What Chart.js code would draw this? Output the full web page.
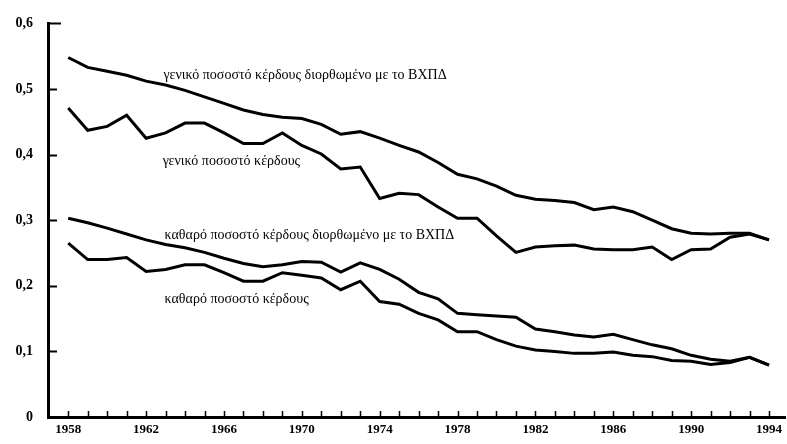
<!DOCTYPE html>
<html>
<head>
<meta charset="utf-8">
<script src="https://cdn.jsdelivr.net/npm/chart.js@4.4.1/dist/chart.umd.min.js"></script>
<style>
    body {
        margin: 0;
        background: #fff;
    }

    #box {
        width: 787px;
        height: 444px;
    }
</style>
</head>
<body>
<div id="box"><canvas id="chart"></canvas></div>
<script>
// years on the x axis
const years = [1958, 1959, 1960, 1961, 1962, 1963, 1964, 1965, 1966, 1967,
    1968, 1969, 1970, 1971, 1972, 1973, 1974, 1975, 1976, 1977,
    1978, 1979, 1980, 1981, 1982, 1983, 1984, 1985, 1986, 1987,
    1988, 1989, 1990, 1991, 1992, 1993, 1994]
const yearLabels = [1958, 1962, 1966, 1970, 1974, 1978, 1982, 1986, 1990, 1994]
const valueTicks = [0, 0.1, 0.2, 0.3, 0.4, 0.5, 0.6]

// γενικό ποσοστό κέρδους διορθωμένο με το ΒΧΠΔ
const grossAdjusted = [0.548, 0.533, 0.527, 0.521, 0.512, 0.506, 0.498, 0.488, 0.478, 0.468,
    0.461, 0.457, 0.455, 0.446, 0.431, 0.435, 0.425, 0.414, 0.404, 0.388,
    0.370, 0.363, 0.352, 0.338, 0.332, 0.330, 0.327, 0.316, 0.320, 0.313,
    0.300, 0.287, 0.280, 0.279, 0.280, 0.280, 0.270]
// γενικό ποσοστό κέρδους
const gross = [0.471, 0.437, 0.443, 0.460, 0.425, 0.433, 0.448, 0.448, 0.433, 0.417,
    0.417, 0.433, 0.414, 0.401, 0.378, 0.381, 0.333, 0.341, 0.339, 0.320,
    0.303, 0.303, 0.276, 0.251, 0.259, 0.261, 0.262, 0.256, 0.255, 0.255,
    0.259, 0.240, 0.255, 0.256, 0.274, 0.279, 0.270]
// καθαρό ποσοστό κέρδους διορθωμένο με το ΒΧΠΔ
const netAdjusted = [0.303, 0.296, 0.288, 0.279, 0.270, 0.263, 0.258, 0.251, 0.242, 0.234,
    0.229, 0.232, 0.237, 0.236, 0.221, 0.235, 0.225, 0.210, 0.190, 0.180,
    0.158, 0.156, 0.154, 0.152, 0.134, 0.130, 0.125, 0.122, 0.126, 0.118,
    0.110, 0.104, 0.094, 0.088, 0.085, 0.091, 0.079]
// καθαρό ποσοστό κέρδους
const net = [0.265, 0.240, 0.240, 0.243, 0.222, 0.225, 0.232, 0.232, 0.220, 0.207,
    0.207, 0.220, 0.216, 0.212, 0.194, 0.207, 0.176, 0.172, 0.158, 0.148,
    0.130, 0.130, 0.118, 0.108, 0.102, 0.100, 0.097, 0.097, 0.099, 0.094,
    0.092, 0.086, 0.085, 0.080, 0.083, 0.091, 0.079]

const seriesNames = [
    'γενικό ποσοστό κέρδους διορθωμένο με το ΒΧΠΔ',
    'γενικό ποσοστό κέρδους',
    'καθαρό ποσοστό κέρδους διορθωμένο με το ΒΧΠΔ',
    'καθαρό ποσοστό κέρδους'
]

const toPoints = (values) => years.map((year, i) => ({ x: year, y: values[i] }))

const makeSet = (name, values) => ({
    label: name,
    data: toPoints(values),
    borderColor: '#000',
    borderWidth: 3,
    pointRadius: 0,
    tension: 0,
    fill: false
})

// text placed next to each curve (left edge, vertical middle, in axis units)
const notes = [
    { text: seriesNames[0], x: 1962.9, y: 0.521 },
    { text: seriesNames[1], x: 1962.85, y: 0.390 },
    { text: seriesNames[2], x: 1962.95, y: 0.277 },
    { text: seriesNames[3], x: 1962.95, y: 0.179 }
]

// ticks drawn on the inner side of both axes, plus the curve notes
const scanLook = {
    id: 'scanLook',
    afterDraw(chart) {
        const { ctx, chartArea } = chart
        const xs = chart.scales.x
        const ys = chart.scales.y
        ctx.save()
        ctx.strokeStyle = '#000'
        ctx.lineWidth = 2
        valueTicks.forEach((v) => {
            const py = Math.round(ys.getPixelForValue(v)) + 0.5
            ctx.beginPath()
            ctx.moveTo(chartArea.left, py)
            ctx.lineTo(chartArea.left + (v === 0.6 ? 13 : 9), py)
            ctx.stroke()
        })
        ctx.lineWidth = 1.5
        years.forEach((yr) => {
            const px = Math.round(xs.getPixelForValue(yr)) + 0.5
            ctx.beginPath()
            ctx.moveTo(px, chartArea.bottom)
            ctx.lineTo(px, chartArea.bottom - 6)
            ctx.stroke()
        })

        ctx.fillStyle = '#000'
        ctx.font = '14px "Liberation Serif"'
        ctx.textBaseline = 'middle'
        ctx.textAlign = 'left'
        notes.forEach((n) => {
            ctx.fillText(n.text, xs.getPixelForValue(n.x), ys.getPixelForValue(n.y))
        })
        ctx.restore()
    }
}

new Chart(document.getElementById('chart'), {
    type: 'line',
    data: {
        datasets: [
            makeSet(seriesNames[0], grossAdjusted),
            makeSet(seriesNames[1], gross),
            makeSet(seriesNames[2], netAdjusted),
            makeSet(seriesNames[3], net)
        ]
    },
    options: {
        responsive: true,
        maintainAspectRatio: false,
        animation: false,
        layout: { padding: { top: 17, right: 0, left: 0, bottom: 0 } },
        plugins: {
            legend: { display: false },
            tooltip: { enabled: false }
        },
        scales: {
            x: {
                type: 'linear',
                min: 1956.96,
                max: 1994.87,
                afterBuildTicks: (scale) => {
                    scale.ticks = years.map((v) => ({ value: v }))
                },
                afterFit: (scale) => {
                    scale.height = 27
                },
                grid: { display: false, drawTicks: false },
                border: { color: '#000', width: 3 },
                ticks: {
                    autoSkip: false,
                    maxRotation: 0,
                    minRotation: 0,
                    padding: 5,
                    color: '#000',
                    font: { family: 'Liberation Serif', size: 13, weight: 'bold' },
                    callback: (v) => yearLabels.includes(v) ? String(v) : ''
                }
            },
            y: {
                min: 0,
                max: 0.6,
                afterBuildTicks: (scale) => {
                    scale.ticks = valueTicks.map((v) => ({ value: v }))
                },
                afterFit: (scale) => {
                    scale.width = 48
                },
                grid: { display: false, drawTicks: false },
                border: { color: '#000', width: 3 },
                ticks: {
                    padding: 15,
                    color: '#000',
                    font: { family: 'Liberation Serif', size: 14, weight: 'bold' },
                    callback: (v) => v === 0 ? '0' : v.toFixed(1).replace('.', ',')
                }
            }
        }
    },
    plugins: [scanLook]
})
</script>
</body>
</html>
